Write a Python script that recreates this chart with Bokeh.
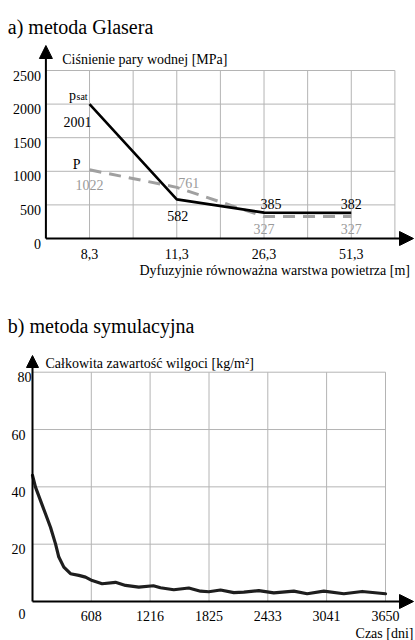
from bokeh.plotting import figure
from bokeh.models import Range1d, Arrow, NormalHead
from bokeh.layouts import column
from bokeh.core.properties import value
from bokeh.embed import file_html
from bokeh.resources import INLINE

FONT = "Liberation Serif"

# ---------------- a) metoda Glasera ----------------
layers = ["8,3", "11,3", "26,3", "51,3"]
p_sat = [2001, 582, 385, 382]
p_vap = [1022, 761, 327, 327]
y_ticks_a = [0, 500, 1000, 1500, 2000, 2500]

# ---------------- b) metoda symulacyjna ----------------
days = [0, 31, 83, 134, 186, 238, 272, 324, 393, 479, 548, 617, 720, 858, 962,
        1099, 1250, 1323, 1461, 1616, 1737, 1823, 1944, 2082, 2185, 2340, 2495,
        2702, 2840, 3012, 3219, 3409, 3650]
moisture = [44.0, 39.9, 35.2, 30.6, 25.9, 20.1, 15.5, 12.0, 9.7, 9.1, 8.5, 7.3,
            6.2, 6.7, 5.6, 5.0, 5.5, 4.8, 4.1, 4.7, 3.6, 3.4, 4.0, 3.1, 3.3, 3.8,
            3.0, 3.6, 2.7, 3.6, 2.7, 3.5, 2.7]
x_ticks_b = [608, 1216, 1825, 2433, 3041, 3650]
y_ticks_b = [0, 20, 40, 60, 80]

# ---------------- styles / layout (pixels) ----------------
GRID = "#b4b4b4"
GRAY = "#a0a0a0"
GRAY_TXT = "#9a9a9a"
W = 415
H1, H2 = 286, 354

# label offsets (pixels) -- style only
sat_dx = [-12, 1, 7, 0]
sat_dy = [18, 17, -9, -9]
vap_dx = [0, 12, 0, 0]
vap_dy = [15, -4, 12, 12]
yb_lab_dx = [-7, -7, -7, -7, -1]
yb_lab_dy = [12, 5, 5, 5, 5]


class Map:
    """pixel <-> data mapping of a figure whose frame covers the whole canvas"""
    def __init__(self, x0, px0, kx, y0, py0, ky, w, h):
        self.x0, self.px0, self.kx = x0, px0, kx
        self.y0, self.py0, self.ky = y0, py0, ky
        self.w, self.h = w, h

    def x(self, px):
        return self.x0 + (px - self.px0) / self.kx

    def y(self, py):
        return self.y0 + (self.py0 - py) / self.ky

    def ranges(self):
        return Range1d(self.x(0), self.x(self.w)), Range1d(self.y(self.h), self.y(0))


def base_fig(m):
    xr, yr = m.ranges()
    p = figure(width=m.w, height=m.h, x_range=xr, y_range=yr, output_backend="svg",
               toolbar_location=None, title_location=None,
               x_axis_location=None, y_axis_location=None,
               min_border=0, min_border_left=0, min_border_right=0,
               min_border_top=0, min_border_bottom=0)
    p.outline_line_color = None
    p.grid.visible = False
    p.background_fill_color = "white"
    p.border_fill_color = "white"
    return p


def txt(p, x, y, text, size="14px", align="left", color="black", dx=0, dy=0):
    p.text(x=x, y=y, text=text, x_offset=dx, y_offset=dy, text_align=align,
           text_baseline="alphabetic", text_font=value(FONT), text_font_size=size,
           text_color=color)


def axis_arrow(p, xs, ys, xe, ye, size):
    p.add_layout(Arrow(end=NormalHead(size=size, fill_color="black", line_color="black", line_width=1),
                       x_start=xs, y_start=ys, x_end=xe, y_end=ye,
                       line_color="black", line_width=2))


# ================= figure a =================
x_pos = list(range(len(layers)))
x_lo = x_pos[0] - 0.5
x_hi = x_pos[-1] + 0.5
m1 = Map(x_lo, 45.4, 87.25, 0, 238, 168 / 2500, W, H1)
p1 = base_fig(m1)

grid_x = [x_lo + 0.5 * k for k in range(2 * len(layers) + 1)]
p1.segment(x0=grid_x, y0=y_ticks_a[0], x1=grid_x, y1=y_ticks_a[-1], line_color=GRID, line_width=1)
p1.segment(x0=x_lo, y0=y_ticks_a, x1=x_hi, y1=y_ticks_a, line_color=GRID, line_width=1)

p1.line(x_pos, p_vap, line_color=GRAY, line_width=3, line_dash="12 8")
p1.line(x_pos, p_sat, line_color="black", line_width=2.6)

axis_arrow(p1, x_lo, 0, x_lo, m1.y(45), 13)
axis_arrow(p1, x_lo, 0, m1.x(413), 0, 14)

# value labels
txt(p1, x_pos, p_sat, [str(v) for v in p_sat], align="center", dx=sat_dx, dy=sat_dy)
txt(p1, x_pos, p_vap, [str(v) for v in p_vap], align="center", dx=vap_dx, dy=vap_dy, color=GRAY_TXT)
# series names
txt(p1, [x_pos[0]], [p_sat[0]], ["p"], align="center", dx=-17, dy=-9)
txt(p1, [x_pos[0]], [p_sat[0]], ["sat"], size="10px", dx=-13, dy=-8)
txt(p1, [x_pos[0]], [p_vap[0]], ["P"], align="center", dx=-13, dy=-5)

# tick labels
txt(p1, x_lo, y_ticks_a, [str(t) for t in y_ticks_a], align="right", dx=-5, dy=5)
txt(p1, x_pos, 0, layers, align="center", dy=15)

# titles
txt(p1, [m1.x(7.3)], [m1.y(26.7)], ["a) metoda Glasera"], size="20px")
txt(p1, [m1.x(61.7)], [m1.y(59.3)], ["Ciśnienie pary wodnej [MPa]"])
txt(p1, [m1.x(409.5)], [m1.y(269.5)], ["Dyfuzyjnie równoważna warstwa powietrza [m]"], align="right")

# ================= figure b =================
m2 = Map(0, 32, 353 / 3650, 0, 601 - H1, 229.3 / 80, W, H2)
p2 = base_fig(m2)

p2.segment(x0=x_ticks_b, y0=y_ticks_b[0], x1=x_ticks_b, y1=y_ticks_b[-1], line_color=GRID, line_width=1)
p2.segment(x0=0, y0=y_ticks_b[1:], x1=x_ticks_b[-1], y1=y_ticks_b[1:], line_color=GRID, line_width=1)

p2.line(days, moisture, line_color="#1e1e1e", line_width=3.2, line_join="round", line_cap="round")

axis_arrow(p2, 0, 0, 0, m2.y(355 - H1), 12)
axis_arrow(p2, 0, 0, m2.x(413), 0, 14)

txt(p2, 0, y_ticks_b, [str(t) for t in y_ticks_b], align="right", dx=yb_lab_dx, dy=yb_lab_dy)
txt(p2, x_ticks_b, 0, [str(t) for t in x_ticks_b], align="center", dy=14)

txt(p2, [m2.x(7.3)], [m2.y(325 - H1)], ["b) metoda symulacyjna"], size="20px")
txt(p2, [m2.x(45)], [m2.y(362.7 - H1)], ["Całkowita zawartość wilgoci [kg/m²]"])
txt(p2, [m2.x(413)], [m2.y(633 - H1)], ["Czas [dni]"], align="right")

layout = column(p1, p2)
open("out.html", "w").write(file_html(layout, INLINE))
